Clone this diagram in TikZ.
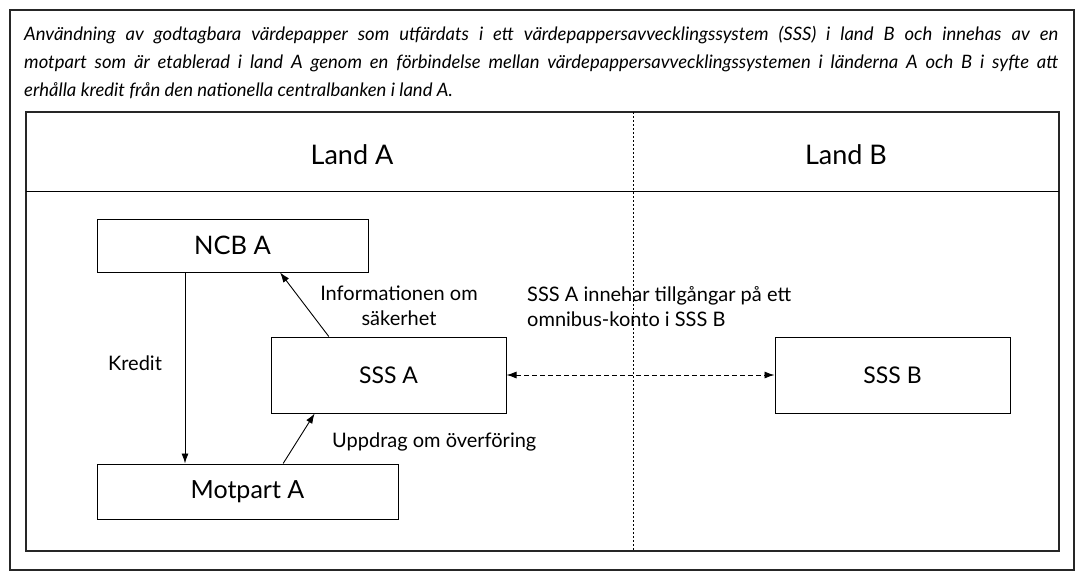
\documentclass[tikz,border=0pt]{standalone}
\usepackage{fontspec}
\setmainfont{Lato}
\usetikzlibrary{arrows.meta,positioning,calc}
\tikzset{every picture/.style={x=1pt, y=-1pt}, % one unit is one pixel, y runs down
        frame/.style={ % outer and inner frames
            draw, line width=1.2pt, black!85},
        box/.style={ % the four parties
            draw, line width=1pt, inner sep=0pt},
        note/.style={ % texts beside the connectors
            font=\fontsize{20}{25}\selectfont, inner sep=0pt},
        flow/.style={ % connectors
            draw, line width=0.9pt, -{Latex[length=10pt,width=7pt]}},
        border/.style={ % line between the two countries
            line width=0.8pt, dash pattern=on 1.5pt off 2.5pt}
        }

\begin{document}
\begin{tikzpicture}
    \useasboundingbox (0,0) rectangle (1080,571);
    \draw[frame] (10,10) rectangle (1074,570);
    \node[anchor=north west, inner sep=0pt, text width=1034pt, align=justify,
          font=\fontsize{18.5}{28}\selectfont\itshape] (caption) at (24,26)
        {\hyphenpenalty=10000 Användning av godtagbara värdepapper som utfärdats i ett värdepappersavvecklingssystem (SSS) i land B och innehas av en\linebreak
         motpart som är etablerad i land A genom en förbindelse mellan värdepappersavvecklingssystemen i länderna A och B i syfte att\linebreak
         erhålla kredit från den nationella centralbanken i land A.};

    % table with the two countries
    \draw[frame] (26,112) rectangle (1059,551);
    \draw[line width=1pt] (26,191) -- (1059,191);
    \draw[border] (633,112) -- (633,551);
    \node[font=\fontsize{27}{30}\selectfont] (landa) at (352,155) {Land A};
    \node[font=\fontsize{27}{30}\selectfont] (landb) at (846,155) {Land B};

    \node[box, minimum width=271pt, minimum height=53pt, font=\fontsize{25.5}{28}\selectfont] (ncb) at (232.5,245.5) {NCB A};
    \node[box, minimum width=235pt, minimum height=76pt, font=\fontsize{23}{26}\selectfont] (sssa) at (388.5,375) {SSS A};
    \node[box, minimum width=235pt, minimum height=76pt, font=\fontsize{23}{26}\selectfont] (sssb) [right=268pt of sssa] {SSS B};
    \node[box, minimum width=301pt, minimum height=55pt, font=\fontsize{25}{28}\selectfont] (motpart) at (247.5,491.5) {Motpart A};

    \coordinate (kx) at (185,0);
    \draw[flow] (ncb.south -| kx) -- (motpart.north -| kx);
    \draw[flow] ($(sssa.north west)!0.247!(sssa.north east)$) -- ($(ncb.south west)!0.675!(ncb.south east)$);
    \draw[flow] ($(motpart.north west)!0.618!(motpart.north east)$) -- ($(sssa.south west)!0.187!(sssa.south east)$);
    \draw[flow, {Latex[length=10pt,width=7pt]}-{Latex[length=10pt,width=7pt]}, dash pattern=on 5pt off 3pt] (sssa) -- (sssb);

    \node[note] (kredit) at (135,363) {Kredit};
    \node[note, align=center] (info) at (399,306) {Informationen om\\säkerhet};
    \node[note, anchor=west] (uppdrag) at (332,442) {Uppdrag om överföring};
    \node[note, anchor=west, align=left] (omnibus) at (527,307) {SSS A innehar tillgångar på ett\\omnibus-konto i SSS B};
\end{tikzpicture}
\end{document}
